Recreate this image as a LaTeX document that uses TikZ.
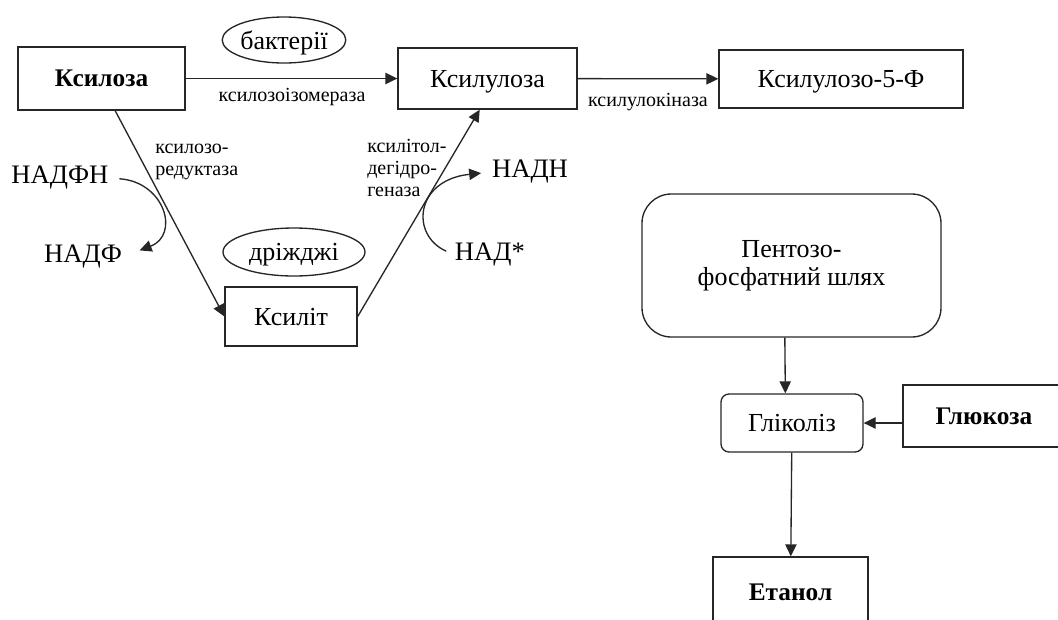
\documentclass[tikz,border=0pt]{standalone}
\usepackage{fontspec}
\setmainfont{Liberation Serif}
\usetikzlibrary{arrows.meta,shapes.geometric,positioning}

\tikzset{
  box/.style={draw=black!85,line width=1pt,inner sep=2pt,text depth=0pt,font=\fontsize{19.5}{21}\selectfont},
  rbox/.style={box,rounded corners=6pt},
  oval/.style={draw=black!85,line width=1pt,ellipse,inner sep=0pt,text depth=0pt,font=\fontsize{19.5}{21}\selectfont},
  cof/.style={inner sep=0pt,font=\fontsize{20}{22}\selectfont},
  enz/.style={inner sep=0pt,font=\fontsize{15}{16.5}\selectfont},
  arr/.style={line width=1pt,draw=black!85,-{Triangle[length=9pt,width=8.5pt]}}
}

\begin{document}
\begin{tikzpicture}[x=0.75pt,y=-0.75pt]
    \clip (0,0) rectangle (1058,619);

    \node[box,minimum width=125.25pt,minimum height=47.25pt] (ksyloza) at (101.5,78.5) {\fontsize{19}{21}\selectfont\bfseries Ксилоза};
    \node[box,minimum width=134.25pt,minimum height=45.75pt] (ksylul) at (487.5,78.5) {Ксилулоза};
    \node[box,minimum width=183pt,minimum height=43.5pt] (ksylul5f) at (841,79) {Ксилулозо-5-Ф};
    \node[box,minimum width=99pt,minimum height=44.25pt] (ksylit) at (291,316.5) {Ксиліт};

    \node[oval,minimum width=91.5pt,minimum height=34.5pt] (bakt) at (284,40) {бактерії};
    \node[oval,minimum width=106.5pt,minimum height=36pt] (drizh) at (294,252) {дріжджі};

    \node[box,text depth=,rounded corners=22pt,minimum width=224.25pt,minimum height=107.25pt,align=center] (pentoza) at (791.5,265.5) {Пентозо-\\фосфатний шлях};
    \node[rbox,minimum width=106.5pt,minimum height=43.5pt] (glikoliz) at (792,423) {Гліколіз};
    \node[box,minimum width=121.5pt,minimum height=46.5pt] (glukoza) at (984,416) {\fontsize{19}{21}\selectfont\bfseries Глюкоза};
    \node[box,minimum width=116.25pt,minimum height=52.5pt] (etanol) at (790.5,592) {\fontsize{19}{21}\selectfont\bfseries Етанол};

    \node[cof] (nadfh) at (60,178) {НАДФН};
    \node[cof] (nadf) at (83,257) {НАДФ};
    \node[cof] (nadh) at (530,172) {НАДН};
    \node[cof] (nadplus) at (490,255) {НАД*};

    \node[enz] (izom) at (292,97) {ксилозоізомераза};
    \node[enz] (kinaza) at (648,102) {ксилулокіназа};
    \node[enz,align=left,anchor=west] (reduk) at (155,162) {ксилозо-\\редуктаза};
    \node[enz,align=left,anchor=west] (degidr) at (367,167.5) {ксилітол-\\дегідро-\\геназа};

    \draw[arr] (ksyloza) -- (ksylul);
    \draw[arr] (ksylul) -- (ksylul5f);
    \draw[arr] (ksyloza.-67) -- (ksylit.west);
    \draw[arr] (ksylit.east) -- (ksylul.-104);

    \draw[arr,shorten <=8pt,shorten >=14pt] (nadfh.east) .. controls (165,182) and (180,235) .. (nadf.east);
    \draw[arr,shorten <=7pt,shorten >=8pt] (nadplus.west) .. controls (410,235) and (415,180) .. (nadh.west);

    \draw[arr] ([xshift=-5pt]pentoza.south) -- ([xshift=-5pt]glikoliz.north);
    \draw[arr] (glikoliz.east -| glukoza.west) -- (glikoliz.east);
    \draw[arr] (glikoliz) -- (etanol);
\end{tikzpicture}
\end{document}
